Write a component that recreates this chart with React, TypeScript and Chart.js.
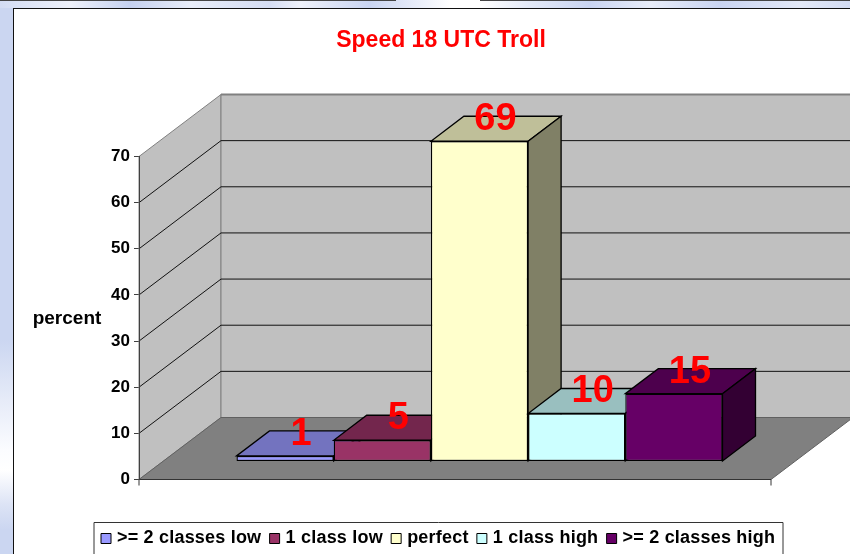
import React, { useEffect, useRef } from "react";
import { Chart, registerables } from "chart.js";

Chart.register(...registerables);

const chartTitle = "Speed 18 UTC Troll";
const axisTitle = "percent";
const categories = [""];
const seriesNames = [">= 2 classes low", "1 class low", "perfect", "1 class high", ">= 2 classes high"];
const seriesValues = [1.2, 4.6, 69.4, 10.4, 14.7];
const faceColors = ["#9999FF", "#993366", "#FFFFCC", "#CCFFFF", "#660066"];
const topColors = ["#7373BF", "#73264D", "#BFBF99", "#99BFBF", "#4D004D"];
const sideColors = ["#4D4D80", "#4D1A33", "#808066", "#668080", "#330033"];

const FONT = "'Liberation Sans', Arial, sans-serif";
const WALL = { dx: 82, dy: -62 };
const BAR_DEPTH = { dx: 33, dy: -25 };
const BAR_SHIFT = { dx: 24.5, dy: -18 };

function poly(ctx: CanvasRenderingContext2D, pts: number[][], fill: string | null, stroke: string | null, lw = 1) {
  ctx.beginPath();
  pts.forEach((p, i) => (i ? ctx.lineTo(p[0], p[1]) : ctx.moveTo(p[0], p[1])));
  ctx.closePath();
  if (fill) {
    ctx.fillStyle = fill;
    ctx.fill();
  }
  if (stroke) {
    ctx.strokeStyle = stroke;
    ctx.lineWidth = lw;
    ctx.stroke();
  }
}

const threeD = {
  id: "threeD",
  beforeDatasetsDraw(chart: any) {
    const { ctx, chartArea, scales } = chart;
    const { left: L, right: R, top: T, bottom: B } = chartArea;
    const { dx, dy } = WALL;
    ctx.save();
    // walls and floor
    poly(ctx, [[L, B], [L + dx, B + dy], [L + dx, T + dy], [L, T]], "#C0C0C0", "#808080");
    poly(ctx, [[L + dx, T + dy], [R + dx, T + dy], [R + dx, B + dy], [L + dx, B + dy]], "#C0C0C0", "#808080");
    poly(ctx, [[L, B], [R, B], [R + dx, B + dy], [L + dx, B + dy]], "#808080", "#606060");
    // top edge of the back wall is heavier
    ctx.strokeStyle = "#808080";
    ctx.lineWidth = 2;
    ctx.beginPath();
    ctx.moveTo(L + dx, T + dy);
    ctx.lineTo(R + dx, T + dy);
    ctx.stroke();
    // grid lines from the value scale
    scales.y.ticks.forEach((t: any) => {
      if (t.value === 0 || t.value === scales.y.max) return;
      const y = scales.y.getPixelForValue(t.value);
      ctx.strokeStyle = "#111";
      ctx.lineWidth = 1;
      ctx.beginPath();
      ctx.moveTo(L, y);
      ctx.lineTo(L + dx, y + dy);
      ctx.lineTo(R + dx, y + dy);
      ctx.stroke();
    });
    // front floor line and end ticks
    ctx.strokeStyle = "#333";
    ctx.lineWidth = 1;
    ctx.beginPath();
    ctx.moveTo(L, B);
    ctx.lineTo(R, B);
    ctx.moveTo(L, B);
    ctx.lineTo(L, B + 6);
    ctx.moveTo(R, B);
    ctx.lineTo(R, B + 6);
    ctx.stroke();
    // bars, first series at the back of the paint order
    chart.data.datasets.forEach((_: any, i: number) => {
      const bar = chart.getDatasetMeta(i).data[0];
      const half = bar.width / 2;
      const x0 = bar.x - half + BAR_SHIFT.dx;
      const x1 = bar.x + half + BAR_SHIFT.dx;
      const yt = bar.y + BAR_SHIFT.dy;
      const yb = bar.base + BAR_SHIFT.dy;
      const d = BAR_DEPTH;
      poly(ctx, [[x0, yt], [x1, yt], [x1 + d.dx, yt + d.dy], [x0 + d.dx, yt + d.dy]], topColors[i], "#000", 1.3);
      poly(ctx, [[x1, yt], [x1 + d.dx, yt + d.dy], [x1 + d.dx, yb + d.dy], [x1, yb]], sideColors[i], "#000", 1.3);
      ctx.save();
      ctx.translate(BAR_SHIFT.dx, BAR_SHIFT.dy);
      bar.draw(ctx);
      ctx.restore();
    });
    ctx.restore();
    return false;
  },
  afterDraw(chart: any) {
    const { ctx, chartArea } = chart;
    ctx.save();
    // data labels, floating over the top face of each bar
    ctx.fillStyle = "#FF0000";
    ctx.font = `bold 38px ${FONT}`;
    ctx.textAlign = "center";
    ctx.textBaseline = "middle";
    chart.data.datasets.forEach((ds: any, i: number) => {
      const bar = chart.getDatasetMeta(i).data[0];
      const x = bar.x + BAR_SHIFT.dx + BAR_DEPTH.dx / 2 - 0.5;
      const y = bar.y + BAR_SHIFT.dy + BAR_DEPTH.dy / 2 - 9;
      ctx.fillText(String(Math.round(ds.data[0])), x, y);
    });
    // horizontal axis title
    ctx.fillStyle = "#000";
    ctx.font = `bold 19px ${FONT}`;
    ctx.fillText(axisTitle, chartArea.left - 72, chartArea.top + 162);
    // legend
    const boxLeft = 80;
    const boxRight = 769;
    const boxTop = 513.5;
    poly(ctx, [[boxLeft, boxTop], [boxRight, boxTop], [boxRight, boxTop + 40], [boxLeft, boxTop + 40]], "#FFF", "#333");
    ctx.textAlign = "left";
    ctx.font = `bold 18px ${FONT}`;
    (ctx as any).letterSpacing = "0.2px";
    let x = boxLeft + 7;
    chart.data.datasets.forEach((ds: any) => {
      poly(ctx, [[x, 524.5], [x + 10, 524.5], [x + 10, 534.5], [x, 534.5]], ds.backgroundColor, "#000");
      ctx.fillStyle = "#000";
      ctx.fillText(ds.label, x + 16, 529);
      x += 16 + ctx.measureText(ds.label).width + 8.3;
    });
    ctx.restore();
  },
};

export default function App() {
  const ref = useRef<HTMLCanvasElement>(null);
  useEffect(() => {
    const chart = new Chart(ref.current as HTMLCanvasElement, {
      type: "bar",
      data: {
        labels: categories,
        datasets: seriesNames.map((label, i) => ({
          label,
          data: [seriesValues[i]],
          backgroundColor: faceColors[i],
          borderColor: "#000",
          borderWidth: 1.3,
          borderSkipped: false,
          categoryPercentage: 486 / 632,
          barPercentage: 1,
        })),
      },
      options: {
        responsive: false,
        animation: false,
        layout: { padding: { left: 0, right: 0, top: 18, bottom: 89.5 } },
        plugins: {
          legend: { display: false },
          tooltip: { enabled: false },
          title: {
            display: true,
            text: chartTitle,
            color: "#FF0000",
            font: { family: FONT, size: 23, weight: "bold" },
            padding: { top: 0, bottom: 101.9 },
          },
        },
        scales: {
          x: { display: false },
          y: {
            min: 0,
            max: 70,
            afterFit: (s: any) => {
              s.width = 125;
            },
            ticks: {
              stepSize: 10,
              color: "#000",
              padding: 4,
              font: { family: FONT, size: 17, weight: "bold" },
            },
            grid: { drawOnChartArea: false, drawTicks: true, tickLength: 5, color: "#404040" },
            border: { display: true, color: "#404040", z: 1 },
          },
          // empty right-hand margin that holds the 3D depth, so the title stays centred on the full frame
          margin: {
            type: "linear",
            position: "right",
            min: 0,
            max: 70,
            afterFit: (s: any) => {
              s.width = 97;
            },
            ticks: { display: false },
            grid: { display: false },
            border: { display: false },
          },
        },
      },
      plugins: [threeD],
    } as any);
    return () => chart.destroy();
  }, []);

  return (
    <div
      style={{
        position: "fixed",
        left: 0,
        top: 0,
        width: 850,
        height: 554,
        overflow: "hidden",
        background:
          "linear-gradient(180deg,#CBD6F1 0,#CBD6F1 340px,#E6EBF8 400px,#FBFCFF 450px,#FFFFFF 470px,#DCE3F5 505px,#CBD6F1 530px)",
      }}
    >
      <div
        style={{
          position: "absolute",
          left: 0,
          top: 0,
          width: 850,
          height: 8,
          background:
            "linear-gradient(90deg,#D3DCF3 0,#EEF1FA 70px,#C5D1F0 130px,#E8EDF9 190px,#D5DDF3 270px,#EEF1FA 300px,#C9D4F1 370px,#FFFFFF 450px,#FFFFFF 480px,#E3E9F7 530px,#C9D4F1 590px,#E8EDF9 650px,#C9D4F1 720px,#E3E9F7 800px,#D3DCF3 850px)",
        }}
      />
      <div style={{ position: "absolute", left: 0, top: 0, width: 396, height: 1, background: "#444" }} />
      <div style={{ position: "absolute", left: 480, top: 0, width: 370, height: 1, background: "#444" }} />
      <div
        style={{
          position: "absolute",
          left: 13,
          top: 8,
          width: 900,
          height: 600,
          background: "#FFF",
          borderLeft: "1px solid #111",
          borderTop: "1px solid #111",
        }}
      />
      <canvas
        ref={ref}
        width={854}
        height={560}
        style={{ position: "absolute", left: 14, top: 9, width: 854, height: 560, display: "block" }}
      />
    </div>
  );
}
